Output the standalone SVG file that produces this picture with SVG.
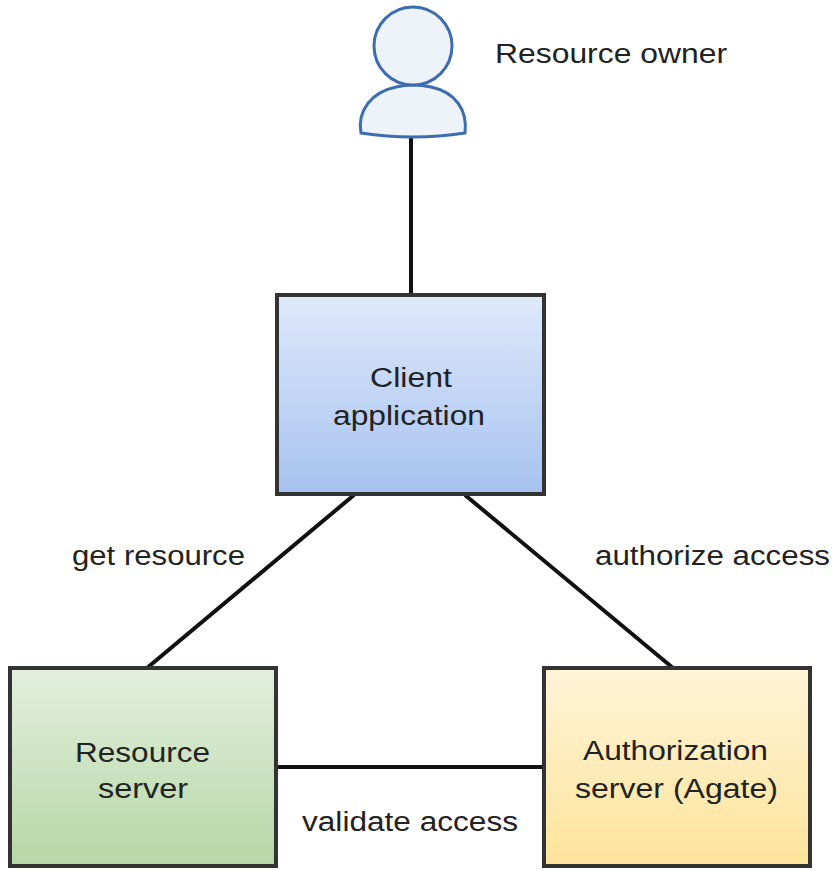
<svg xmlns="http://www.w3.org/2000/svg" width="835" height="871" viewBox="0 0 835 871">
<style>
text{font-family:"Liberation Sans",Arial,sans-serif;font-size:27px;fill:#222}
.box{stroke:#333;stroke-width:4}
.conn{stroke:#111;stroke-width:4;fill:none}
</style>
<defs>
<linearGradient id="gBlue" x1="0" y1="0" x2="0" y2="1"><stop offset="0" stop-color="#dfe9fb"/><stop offset="1" stop-color="#a6c2ef"/></linearGradient>
<linearGradient id="gGreen" x1="0" y1="0" x2="0" y2="1"><stop offset="0" stop-color="#e4efdd"/><stop offset="1" stop-color="#b5d7a6"/></linearGradient>
<linearGradient id="gYellow" x1="0" y1="0" x2="0" y2="1"><stop offset="0" stop-color="#fff4d8"/><stop offset="1" stop-color="#fde39a"/></linearGradient>
</defs>
<rect width="835" height="871" fill="#fff"/>
<g id="connectors">
<line class="conn" x1="411" y1="138" x2="411" y2="294"/>
<line class="conn" x1="354" y1="495" x2="147" y2="668"/>
<line class="conn" x1="465" y1="495" x2="673" y2="668"/>
<line class="conn" x1="277" y1="767" x2="543" y2="767"/>
</g>
<g id="resource-owner">
<path d="M 361,133 C 357,110 372,92 396,87 Q 413,83 431,87 C 455,92 468,110 465,133 Q 413,141 361,133 Z" fill="#eef3f9" stroke="#3b6db0" stroke-width="3"/>
<circle cx="413" cy="46" r="39" fill="#eef3f9" stroke="#3b6db0" stroke-width="3"/>
<text x="495" y="63" textLength="232" lengthAdjust="spacingAndGlyphs">Resource owner</text>
</g>
<g id="client-application">
<rect class="box" x="277" y="295" width="267" height="199" fill="url(#gBlue)"/>
<text x="370" y="387" textLength="82" lengthAdjust="spacingAndGlyphs">Client</text>
<text x="333" y="425" textLength="152" lengthAdjust="spacingAndGlyphs">application</text>
</g>
<g id="resource-server">
<rect class="box" x="10" y="668" width="266" height="198" fill="url(#gGreen)"/>
<text x="75" y="762" textLength="135" lengthAdjust="spacingAndGlyphs">Resource</text>
<text x="98" y="798" textLength="90" lengthAdjust="spacingAndGlyphs">server</text>
</g>
<g id="authorization-server">
<rect class="box" x="544" y="668" width="266" height="198" fill="url(#gYellow)"/>
<text x="583" y="760" textLength="185" lengthAdjust="spacingAndGlyphs">Authorization</text>
<text x="575" y="798" textLength="203" lengthAdjust="spacingAndGlyphs">server (Agate)</text>
</g>
<g id="labels">
<text x="72" y="565" textLength="173" lengthAdjust="spacingAndGlyphs">get resource</text>
<text x="595" y="565" textLength="235" lengthAdjust="spacingAndGlyphs">authorize access</text>
<text x="302" y="831" textLength="216" lengthAdjust="spacingAndGlyphs">validate access</text>
</g>
</svg>
